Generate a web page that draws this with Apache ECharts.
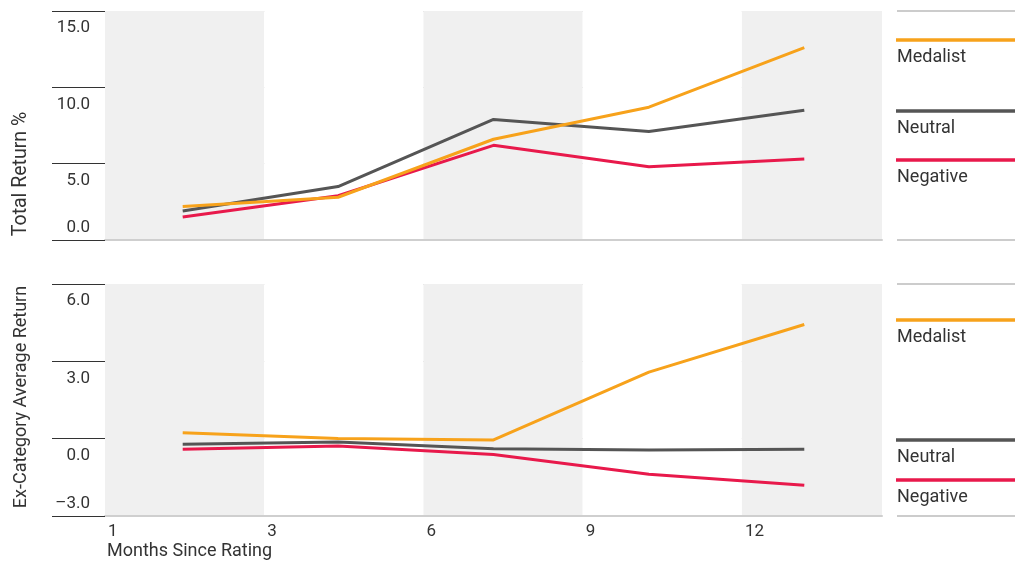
<!DOCTYPE html>
<html><head><meta charset="utf-8">
<script src="https://cdn.jsdelivr.net/npm/echarts@6/dist/echarts.min.js"></script>
<style>html,body{margin:0;padding:0;background:#fff}#c{width:1022px;height:565px}</style>
</head><body><div id="c"></div>
<script>
// ---- data ----
const months = ['1', '3', '6', '9', '12'];
const xTickLabels = ['1', '3', '6', '9', '12'];
const seriesNames = ['Medalist', 'Neutral', 'Negative'];
const totalMedalist = [2.2, 2.8, 6.6, 8.7, 12.6];
const totalNeutral = [1.9, 3.5, 7.9, 7.1, 8.5];
const totalNegative = [1.5, 2.9, 6.2, 4.8, 5.3];
const exMedalist = [0.23, 0.01, -0.05, 2.58, 4.43];
const exNeutral = [-0.22, -0.13, -0.39, -0.44, -0.41];
const exNegative = [-0.41, -0.28, -0.61, -1.38, -1.81];
const topAxis = { min: 0, max: 15, interval: 5 };
const bottomAxis = { min: -3, max: 6, interval: 3 };
const bandAxis = { min: 0, max: 4.88, interval: 1 };

// ---- style ----
const FONT = 'Roboto';
const colors = ['#F7A21B', '#555555', '#E8194B'];
const textColor = '#333';

function fmt(v) {
  const s = Math.abs(v).toFixed(1);
  return v < 0 ? '\u2013' + s : s;
}
function yAxisFor(grid, ax) {
  return {
    type: 'value', gridIndex: grid, min: ax.min, max: ax.max, interval: ax.interval,
    offset: 15,
    axisLine: { show: false },
    axisTick: { show: true, length: 53, lineStyle: { color: '#333', width: 1 } },
    splitLine: { show: true, lineStyle: { color: '#c8c8c8', width: 1 } },
    axisLabel: {
      margin: 0, align: 'right', verticalAlign: 'middle',
      formatter: v => (v === ax.min ? '{up|' : '{dn|') + fmt(v) + '}',
      rich: {
        up: { fontFamily: FONT, fontSize: 17, color: textColor, padding: [0, 0, 25, 0] },
        dn: { fontFamily: FONT, fontSize: 17, color: textColor, padding: [34, 0, 0, 0] }
      }
    }
  };
}
function xData(grid) {
  return {
    type: 'category', gridIndex: grid, data: months, boundaryGap: true,
    axisLine: { show: false }, axisTick: { show: false }, axisLabel: { show: false },
    splitLine: { show: false }, splitArea: { show: false }
  };
}
function xBand(grid, showLabels) {
  return {
    type: 'value', gridIndex: grid, min: bandAxis.min, max: bandAxis.max, interval: bandAxis.interval,
    position: 'bottom',
    axisLine: { show: true, onZero: false, lineStyle: { color: '#cfcfcf', width: 2 } },
    axisTick: { show: false },
    splitLine: { show: false },
    splitArea: { show: true, areaStyle: { color: ['#f0f0f0', '#ffffff'] } },
    axisLabel: {
      show: showLabels, align: 'left', margin: 7, padding: [0, 0, 0, 3],
      showMinLabel: true, showMaxLabel: true,
      fontFamily: FONT, fontSize: 17, color: textColor,
      formatter: v => (Number.isInteger(v) && xTickLabels[v] !== undefined) ? xTickLabels[v] : ''
    }
  };
}
function line(name, data, idx, xIdx, yIdx) {
  return {
    name, type: 'line', data, xAxisIndex: xIdx, yAxisIndex: yIdx,
    symbol: 'none', smooth: false, silent: true,
    lineStyle: { color: colors[idx], width: 3 }, itemStyle: { color: colors[idx] },
    z: 5 - idx
  };
}

const legendTop = [40, 111, 160];
const legendBottom = [320, 440, 480];
const graphics = [];
function legendBlock(ys, yTopLine, yBotLine) {
  graphics.push({ type: 'line', shape: { x1: 897, y1: yTopLine, x2: 1015, y2: yTopLine }, style: { stroke: '#bbb', lineWidth: 1.5 } });
  graphics.push({ type: 'line', shape: { x1: 897, y1: yBotLine, x2: 1015, y2: yBotLine }, style: { stroke: '#ccc', lineWidth: 2 } });
  ys.forEach((y, i) => {
    graphics.push({ type: 'line', shape: { x1: 896, y1: y, x2: 1015, y2: y }, style: { stroke: colors[i], lineWidth: 3.5 } });
    graphics.push({ type: 'text', x: 897, y: y + 17, style: { text: seriesNames[i], font: '18px ' + FONT, fill: textColor, textAlign: 'left', textVerticalAlign: 'middle' } });
  });
}
legendBlock(legendTop, 11, 240);
legendBlock(legendBottom, 284, 516);
graphics.push({ type: 'text', x: 21, y: 174, rotation: Math.PI / 2, style: { text: 'Total Return %', font: '19.5px ' + FONT, fill: textColor, textAlign: 'center', textVerticalAlign: 'middle' } });
graphics.push({ type: 'text', x: 21, y: 397, rotation: Math.PI / 2, style: { text: 'Ex-Category Average Return', font: '18px ' + FONT, fill: textColor, textAlign: 'center', textVerticalAlign: 'middle' } });
graphics.push({ type: 'text', x: 107, y: 551, style: { text: 'Months Since Rating', font: '18px ' + FONT, fill: textColor, textAlign: 'left', textVerticalAlign: 'middle' } });

const chart = echarts.init(document.getElementById('c'), null, { renderer: 'canvas' });
chart.setOption({
  animation: false,
  backgroundColor: '#fff',
  textStyle: { fontFamily: FONT },
  grid: [
    { left: 105, right: 140, top: 11, height: 229 },
    { left: 105, right: 140, top: 284, height: 232 }
  ],
  xAxis: [xData(0), xBand(0, false), xData(1), xBand(1, true)],
  yAxis: [yAxisFor(0, topAxis), yAxisFor(1, bottomAxis)],
  series: [
    line(seriesNames[0], totalMedalist, 0, 0, 0),
    line(seriesNames[1], totalNeutral, 1, 0, 0),
    line(seriesNames[2], totalNegative, 2, 0, 0),
    line(seriesNames[0], exMedalist, 0, 2, 1),
    line(seriesNames[1], exNeutral, 1, 2, 1),
    line(seriesNames[2], exNegative, 2, 2, 1)
  ],
  graphic: graphics
});
</script>
</body></html>
